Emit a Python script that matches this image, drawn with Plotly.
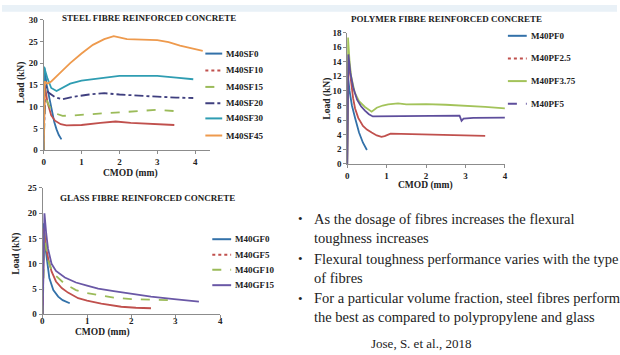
import plotly.graph_objects as go

W, H = 620, 355

# ---------------- Steel fibre reinforced concrete ----------------
sf0_x = [0, 0.02, 0.08, 0.15, 0.21, 0.28, 0.34, 0.40, 0.47]
sf0_y = [0, 19.0, 15.0, 12.0, 9.5, 6.5, 4.8, 3.5, 2.5]

sf10_x = [0, 0.03, 0.10, 0.20, 0.30, 0.45, 0.60, 1.0, 1.5, 1.9, 2.3, 2.8, 3.45]
sf10_y = [0, 15.0, 11.0, 8.0, 6.8, 6.0, 5.7, 5.8, 6.3, 6.6, 6.3, 6.1, 5.8]

sf15_x = [0, 0.04, 0.10, 0.20, 0.30, 0.50, 0.80, 1.2, 1.6, 2.0, 2.5, 3.0, 3.45]
sf15_y = [0, 14.0, 11.0, 9.3, 8.5, 7.9, 8.0, 8.3, 8.5, 8.7, 9.0, 9.3, 9.0]

sf20_x = [0, 0.04, 0.12, 0.30, 0.50, 0.80, 1.2, 1.6, 2.0, 2.5, 3.0, 3.5, 3.95]
sf20_y = [0, 15.0, 13.3, 12.2, 11.7, 12.3, 12.8, 13.1, 12.8, 12.5, 12.3, 12.1, 12.0]

sf30_x = [0, 0.01, 0.10, 0.20, 0.34, 0.50, 0.70, 1.0, 1.4, 2.0, 2.5, 3.0, 3.5, 3.95]
sf30_y = [0, 19.2, 16.5, 14.3, 13.6, 14.3, 15.3, 16.0, 16.5, 17.1, 17.1, 17.1, 16.7, 16.3]

sf45_x = [0, 0.03, 0.10, 0.20, 0.40, 0.70, 1.0, 1.3, 1.6, 1.85, 2.2, 2.6, 3.0, 3.3, 3.6, 4.0, 4.2]
sf45_y = [0, 15.8, 15.3, 15.8, 17.5, 20.0, 22.2, 24.2, 25.5, 26.2, 25.5, 25.4, 25.3, 24.8, 24.0, 23.2, 22.8]

# ---------------- Polymer fibre reinforced concrete ----------------
pf0_x = [0, 0.02, 0.06, 0.12, 0.20, 0.30, 0.40, 0.50]
pf0_y = [0, 12.0, 10.0, 8.0, 6.3, 4.3, 2.9, 1.9]

pf25_x = [0, 0.03, 0.06, 0.10, 0.15, 0.20, 0.28, 0.40, 0.50, 0.62, 0.75, 0.87, 0.95,
          1.1, 1.5, 2.0, 2.5, 3.0, 3.5]
pf25_y = [0, 15.0, 13.0, 11.0, 9.0, 7.6, 6.3, 5.2, 4.7, 4.3, 3.9, 3.7, 3.8,
          4.15, 4.1, 4.1, 4.05, 3.95, 3.84]

pf375_x = [0, 0.02, 0.06, 0.10, 0.19, 0.30, 0.45, 0.62, 0.75, 0.90, 1.04, 1.29, 1.5,
           2.0, 2.5, 3.0, 3.5, 4.0]
pf375_y = [0, 17.3, 14.0, 12.0, 9.8, 8.6, 7.8, 7.15, 7.7, 8.0, 8.15, 8.3, 8.15,
           8.2, 8.1, 8.0, 7.8, 7.6]

pf5_x = [0, 0.03, 0.08, 0.15, 0.25, 0.35, 0.45, 0.55, 0.65, 1.0, 1.5, 2.0, 2.5, 2.85,
         2.9, 2.95, 3.2, 3.6, 4.0]
pf5_y = [0, 15.0, 12.5, 10.5, 8.8, 7.9, 7.3, 6.8, 6.5, 6.5, 6.55, 6.6, 6.6, 6.6,
         5.9, 6.2, 6.3, 6.35, 6.35]

# ---------------- Glass fibre reinforced concrete ----------------
gf0_x = [0, 0.02, 0.05, 0.10, 0.15, 0.24, 0.35, 0.45, 0.61]
gf0_y = [0, 18.0, 14.0, 10.0, 7.2, 4.8, 3.5, 2.8, 2.2]

gf5_x = [0, 0.03, 0.08, 0.13, 0.20, 0.30, 0.43, 0.57, 0.80, 1.0, 1.32, 1.6, 1.77, 2.1, 2.44]
gf5_y = [0, 17.0, 13.0, 10.8, 8.5, 6.5, 5.2, 4.3, 3.2, 2.7, 2.1, 1.7, 1.5, 1.3, 1.2]

gf10_x = [0, 0.04, 0.08, 0.13, 0.20, 0.30, 0.50, 0.75, 1.0, 1.25, 1.6, 2.0, 2.5, 2.96]
gf10_y = [0, 16.0, 13.0, 10.5, 8.8, 7.6, 6.0, 4.8, 4.2, 3.8, 3.3, 3.0, 2.9, 2.8]

gf15_x = [0, 0.04, 0.08, 0.12, 0.20, 0.30, 0.50, 0.75, 1.0, 1.25, 1.6, 2.0, 2.44, 2.96, 3.52]
gf15_y = [0, 20.0, 16.0, 13.0, 10.0, 8.6, 7.3, 6.3, 5.7, 5.1, 4.6, 4.1, 3.5, 3.0, 2.5]

# tick values
steel_yticks = [0, 5, 10, 15, 20, 25, 30]
poly_yticks = [0, 2, 4, 6, 8, 10, 12, 14, 16, 18]
glass_yticks = [0, 5, 10, 15, 20, 25]
cmod_ticks = [0, 1, 2, 3, 4]

BLUE = "#3371A9"
RED = "#C0504D"
GREEN = "#9BBB59"
NAVY = "#3F3F7F"
PURPLE = "#5E4E9C"
TEAL = "#2F9DB2"
ORANGE = "#EE9A4D"
SERIF = "Liberation Serif, Times New Roman, Times, DejaVu Serif, serif"


def px(x):
    return x / W


def py(y):
    return 1 - y / H


fig = go.Figure()

steel = [
    ("M40SF0", sf0_x, sf0_y, BLUE, "solid"),
    ("M40SF10", sf10_x, sf10_y, RED, "solid"),
    ("M40SF15", sf15_x, sf15_y, GREEN, "dash"),
    ("M40SF20", sf20_x, sf20_y, NAVY, "dashdot"),
    ("M40SF30", sf30_x, sf30_y, TEAL, "solid"),
    ("M40SF45", sf45_x, sf45_y, ORANGE, "solid"),
]
poly = [
    ("M40PF0", pf0_x, pf0_y, BLUE, "solid"),
    ("M40PF2.5", pf25_x, pf25_y, RED, "solid"),
    ("M40PF3.75", pf375_x, pf375_y, "#A3C35A", "solid"),
    ("M40PF5", pf5_x, pf5_y, PURPLE, "solid"),
]
glass = [
    ("M40GF0", gf0_x, gf0_y, BLUE, "solid"),
    ("M40GF5", gf5_x, gf5_y, RED, "solid"),
    ("M40GF10", gf10_x, gf10_y, GREEN, "dash"),
    ("M40GF15", gf15_x, gf15_y, "#6A58A6", "solid"),
]

for series, xa, ya in ((steel, "x", "y"), (poly, "x2", "y2"), (glass, "x3", "y3")):
    for name, xs, ys, col, dash in series:
        fig.add_trace(go.Scatter(x=xs, y=ys, mode="lines", name=name,
                                 line=dict(color=col, width=1.8, dash=dash),
                                 xaxis=xa, yaxis=ya, showlegend=False,
                                 hoverinfo="skip"))

tickfont = dict(family=SERIF, size=9, color="#222222", weight="bold")
axis_common = dict(showline=True, linecolor="#8c8c8c", linewidth=1,
                   ticks="outside", ticklen=3, tickcolor="#8c8c8c",
                   showgrid=False, zeroline=False, tickfont=tickfont,
                   fixedrange=True)

fig.update_layout(
    width=W, height=H, margin=dict(l=0, r=0, t=0, b=0),
    paper_bgcolor="white", plot_bgcolor="rgba(0,0,0,0)",
    showlegend=False,
    xaxis=dict(domain=[px(42), px(210)], range=[0, 4.4], tickvals=cmod_ticks,
               anchor="y", **axis_common),
    yaxis=dict(domain=[py(149.5), py(15)], range=[0, 30], tickvals=steel_yticks,
               anchor="x", **axis_common),
    xaxis2=dict(domain=[px(348), px(507)], range=[0, 4], tickvals=cmod_ticks,
                anchor="y2", **axis_common),
    yaxis2=dict(domain=[py(163.5), py(28.3)], range=[0, 18], tickvals=poly_yticks,
                anchor="x2", **axis_common),
    # glass x tick labels are placed as annotations just under the axis line
    xaxis3=dict(domain=[px(41), px(220)], range=[0, 4], tickvals=cmod_ticks,
                anchor="y3", showticklabels=False, **axis_common),
    yaxis3=dict(domain=[py(318.3), py(188.3)], range=[0, 25], tickvals=glass_yticks,
                anchor="x3", **axis_common),
)

ann = []
shapes = []


def text(x, y, s, size=9, bold=True, angle=0, xanchor="center", color="#222222"):
    ann.append(dict(x=px(x), y=py(y), xref="paper", yref="paper", text=s,
                    showarrow=False, textangle=angle, xanchor=xanchor,
                    yanchor="middle",
                    font=dict(family=SERIF, size=size, color=color,
                              weight="bold" if bold else "normal")))


for t in cmod_ticks:
    ann.append(dict(x=t, xref="x3", y=py(325), yref="paper", text=str(t),
                    showarrow=False, xanchor="center", yanchor="middle",
                    font=tickfont))

# chart titles
text(148, 13, "STEEL FIBRE REINFORCED CONCRETE")
text(448, 14, "POLYMER FIBRE REINFORCED CONCRETE")
text(147, 199, "GLASS FIBRE REINFORCED CONCRETE")

# axis titles
text(20, 80, "Load (kN)", size=9.5, angle=-90)
text(130, 173, "CMOD (mm)", size=9.5)
text(328, 96, "Load (kN)", size=9.5, angle=-90)
text(427, 186, "CMOD (mm)", size=9.5)
text(15, 256, "Load (kN)", size=9.5, angle=-90)
text(101, 337, "CMOD (mm)", size=9.5)

# legend keys
legend_dash = {"M40SF10": "dot", "M40SF15": "dash", "M40SF20": "dashdot",
               "M40PF2.5": "dot", "M40PF5": "dash", "M40GF5": "dot",
               "M40GF10": "dash"}


def legend(series, x0, x1, ys):
    for (name, _, _, col, _), yy in zip(series, ys):
        shapes.append(dict(type="line", xref="paper", yref="paper",
                           x0=px(x0), x1=px(x1), y0=py(yy), y1=py(yy),
                           line=dict(color=col, width=2,
                                     dash=legend_dash.get(name, "solid"))))
        text(x1 + 2, yy, name, size=9, xanchor="left")


legend(steel, 205, 222, [50, 67.3, 84.3, 101, 116.7, 134.3])
legend(poly, 510, 529, [31.7, 55, 78.3, 101.7])
legend(glass, 212, 231, [241, 257, 272.3, 288.3])

# bullet points
lines = [
    (220, "As the dosage of fibres increases the flexural", True),
    (240, "toughness increases", False),
    (261, "Flexural toughness performance varies with the type", True),
    (281, "of fibres", False),
    (302, "For a particular volume fraction, steel fibres perform", True),
    (321, "the best as compared to polypropylene and glass", False),
]
for yy, s, bullet in lines:
    if bullet:
        text(301, yy, "•", size=13, bold=False)
    text(313, yy, s, size=14.5, bold=False, xanchor="left")

text(422, 348, "Jose, S. et al., 2018", size=13, bold=False)

# faint tint along the top edge of the slide
shapes.append(dict(type="rect", xref="paper", yref="paper", x0=0, x1=1,
                   y0=py(7), y1=1, fillcolor="#E9F1F7", line=dict(width=0),
                   layer="below"))

fig.update_layout(annotations=ann, shapes=shapes)
fig.write_html("out.html")
